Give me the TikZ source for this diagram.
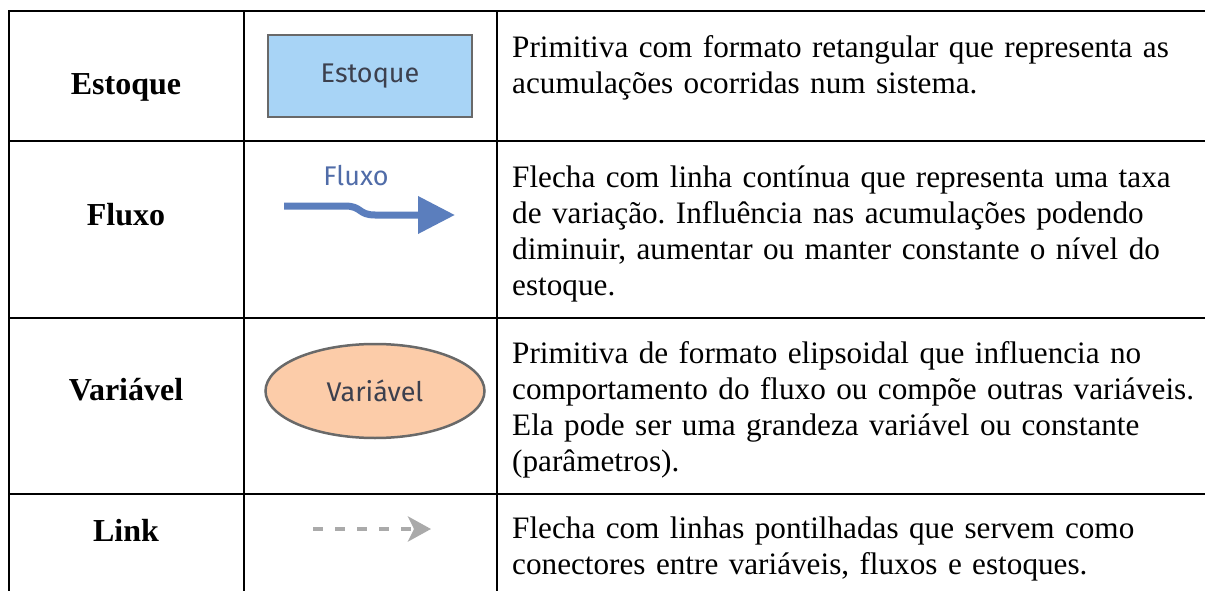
\documentclass[tikz,border=0pt]{standalone}
\usepackage{fontspec}
\setmainfont{Liberation Serif}
\newfontfamily\iconfont{Fira Sans}
\usetikzlibrary{arrows.meta,shapes.geometric}
\frenchspacing

\definecolor{stockblue}{RGB}{168,212,246}
\definecolor{varpeach}{RGB}{252,204,169}
\definecolor{flowblue}{RGB}{91,126,189}
\definecolor{flowtext}{RGB}{80,108,168}
\definecolor{linkgray}{RGB}{170,170,170}
\definecolor{edgegray}{RGB}{105,105,105}
\definecolor{icontext}{RGB}{60,64,78}

\begin{document}
\begin{tikzpicture}[x=1pt,y=-1pt]
    \tikzstyle{rule} = [line width = 2.5pt, black]
    \tikzstyle{rowname} = [font = \fontsize{32}{36}\selectfont\bfseries, anchor = base, inner sep = 0pt]
    \tikzstyle{desc} = [font = \fontsize{31.2}{36}\selectfont, anchor = base west, text width = 700pt, align = left, inner sep = 0pt]
    \tikzstyle{icon} = [font = \iconfont\fontsize{27}{30}\selectfont, text = icontext, draw = edgegray, line width = 2.5pt]
    \tikzstyle{flow} = [line width = 7pt, flowblue, -{Triangle[length = 37pt, width = 36pt]}]
    \tikzstyle{link} = [line width = 4pt, linkgray, dash pattern = on 10pt off 12pt, -{Stealth[length = 23pt, width = 25pt, inset = 6pt]}]
    \useasboundingbox (0,0) rectangle (1205,591);
    % table rules
    \draw[rule] (9,591) -- (9,11) -- (1205,11);
    \draw[rule] (9,141) -- (1205,141);
    \draw[rule] (9,318) -- (1205,318);
    \draw[rule] (9,494) -- (1205,494);
    \draw[rule] (244,11) -- (244,591);
    \draw[rule] (497,11) -- (497,591);
    % first column
    \node[rowname](L1) at (126,95){Estoque};
    \node[rowname](L2) at (126,225){Fluxo};
    \node[rowname](L3) at (126,400){Variável};
    \node[rowname](L4) at (126,541){Link};
    % symbols
    \node[icon, rectangle, fill = stockblue, minimum width = 204pt, minimum height = 82pt](E1) at (370,76){Estoque};
    \node[font = \iconfont\fontsize{27}{30}\selectfont, text = flowtext](F1) at (356,176){Fluxo};
    \coordinate (F0) at (284,206);
    \coordinate (F2) at (455,215);
    \draw[flow] (F0) -- (345,206) .. controls (362,206) and (358,215) .. (375,215) -- (F2);
    \node[icon, ellipse, fill = varpeach, minimum width = 219pt, minimum height = 94pt](V1) at (375,391){Variável};
    \coordinate (K0) at (313,529);
    \coordinate (K1) at (431,529);
    \draw[link] (K0) -- (K1);
    % descriptions
    \node[desc](D1) at (512,58){Primitiva com formato retangular que representa as\\acumulações ocorridas num sistema.};
    \node[desc](D2) at (512,187){Flecha com linha contínua que representa uma taxa\\de variação. Influência nas acumulações podendo\\diminuir, aumentar ou manter constante o nível do\\estoque.};
    \node[desc](D3) at (512,363){Primitiva de formato elipsoidal que influencia no\\comportamento do fluxo ou compõe outras variáveis.\\Ela pode ser uma grandeza variável ou constante\\(parâmetros).};
    \node[desc](D4) at (512,538){Flecha com linhas pontilhadas que servem como\\conectores entre variáveis, fluxos e estoques.};
\end{tikzpicture}
\end{document}
